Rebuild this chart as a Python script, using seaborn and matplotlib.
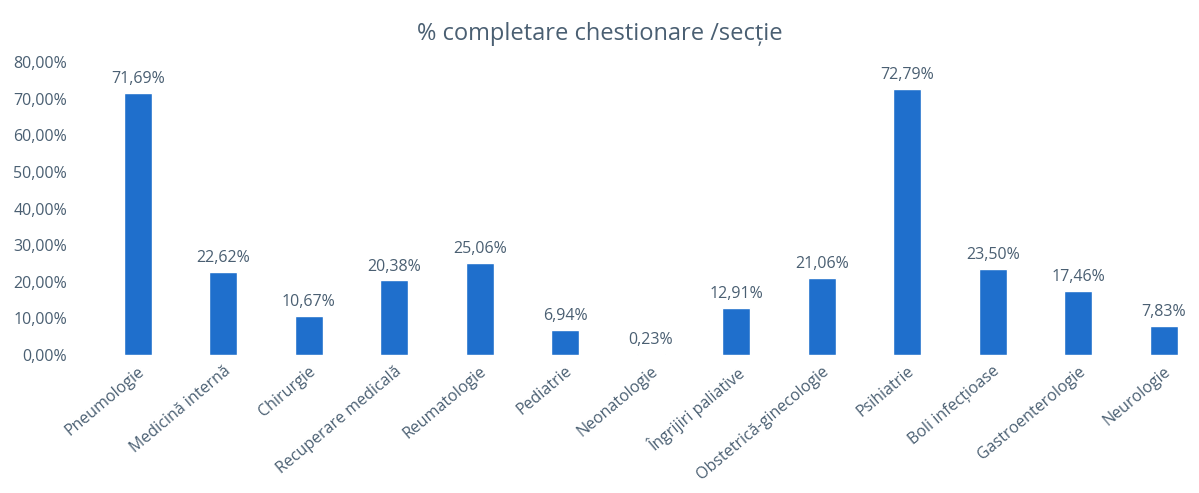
import matplotlib
matplotlib.use("Agg")
import matplotlib.pyplot as plt
import seaborn as sns
import pandas as pd
from matplotlib.ticker import FuncFormatter

sectii = ["Pneumologie", "Medicină internă", "Chirurgie", "Recuperare medicală",
          "Reumatologie", "Pediatrie", "Neonatologie", "Îngrijiri paliative",
          "Obstetrică-ginecologie", "Psihiatrie", "Boli infecțioase",
          "Gastroenterologie", "Neurologie"]
procente = [71.69, 22.62, 10.67, 20.38, 25.06, 6.94, 0.23, 12.91,
            21.06, 72.79, 23.50, 17.46, 7.83]

df = pd.DataFrame({"sectie": sectii, "procent": procente})

sns.set_style("white")
plt.rcParams["font.family"] = ["Open Sans", "DejaVu Sans"]
text_color = "#4a5f72"
bar_color = "#1f6fcc"

fig = plt.figure(figsize=(11.99, 4.93), dpi=100)
ax = fig.add_axes([0.072, 0.28, 0.92, 0.594])
sns.barplot(data=df, x="sectie", y="procent", color=bar_color, width=0.33,
            saturation=1, ax=ax)

for i, v in enumerate(procente):
    ax.text(i, v + 1.6, f"{v:.2f}%".replace(".", ","), ha="center", va="bottom",
            fontsize=11.5, color=text_color)

ax.set_ylim(0, 80)
ax.set_yticks(range(0, 81, 10))
ax.yaxis.set_major_formatter(FuncFormatter(lambda y, _: f"{y:.2f}%".replace(".", ",")))
ax.tick_params(axis="y", labelsize=11.5, colors=text_color, length=0, pad=14)
ax.tick_params(axis="x", labelsize=11.5, colors=text_color, length=0, pad=6)
for lbl in ax.get_xticklabels():
    lbl.set_rotation(40)
    lbl.set_ha("right")
    lbl.set_rotation_mode("anchor")
ax.set_xlabel("")
ax.set_ylabel("")
ax.set_xlim(-0.6, 12.3)
sns.despine(ax=ax, left=True, bottom=True)

fig.suptitle("% completare chestionare /secție", y=0.955, fontsize=17,
             color=text_color)

fig.savefig("out.png", dpi=100)
